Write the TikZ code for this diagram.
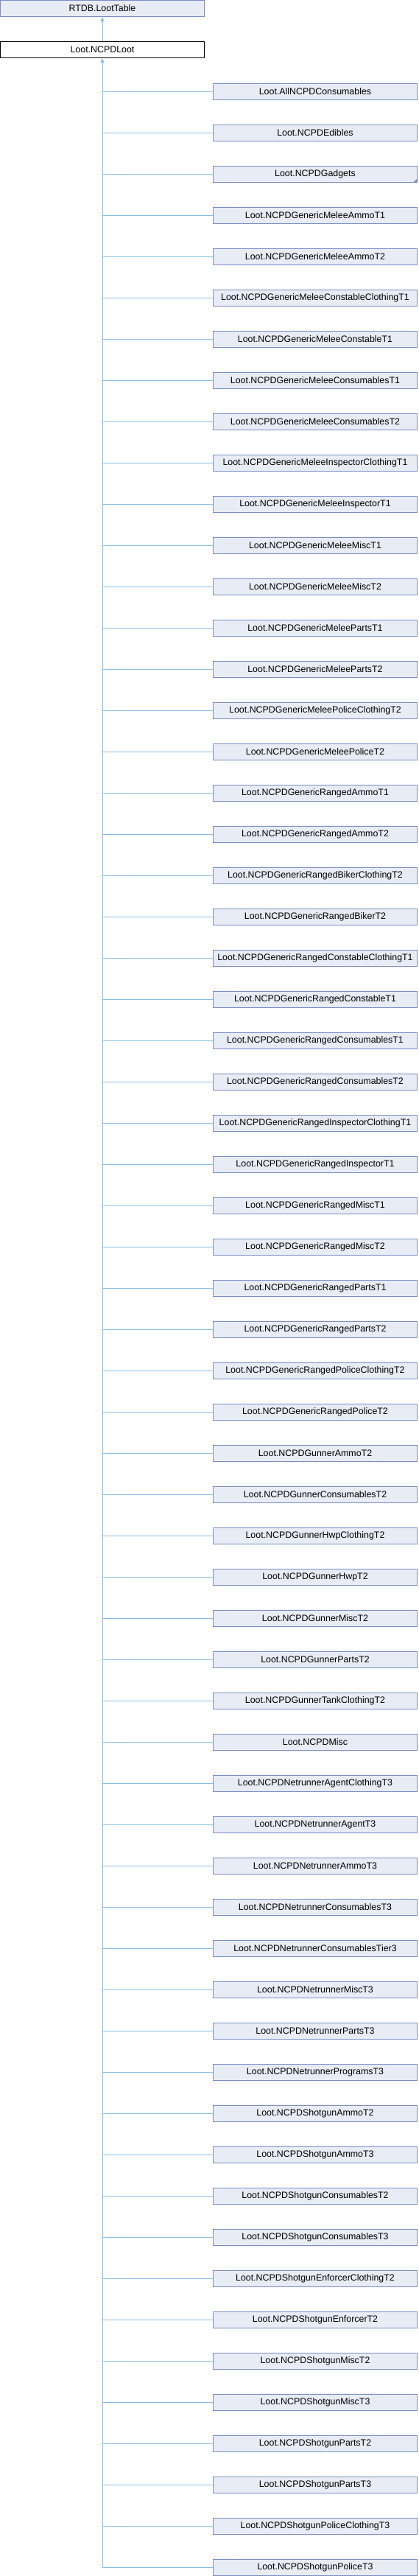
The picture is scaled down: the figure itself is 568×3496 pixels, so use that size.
\documentclass[tikz,border=0pt]{standalone}
\usepackage{fontspec}
\setmainfont{Liberation Sans}
\usetikzlibrary{arrows.meta,positioning}
\definecolor{boxfill}{RGB}{232,236,245}
\definecolor{boxline}{RGB}{122,141,200}
\definecolor{edgeblue}{RGB}{138,192,232}
\tikzset{
    %Define standard arrow tip
    >={Triangle[length=6pt,width=5pt]},
    %Define style for class boxes
    classnode/.style={
             rectangle,
             draw=boxline, fill=boxfill, line width=1pt,
             minimum width=277pt, minimum height=22pt,
             inner sep=0pt,
             font=\fontsize{12.4}{14}\selectfont},
    currentnode/.style={
             classnode,
             draw=black, fill=white},
    % Define edge styles
    inheritline/.style={
            edgeblue,
            line width=1pt},
    inheritarrow/.style={
            <-,
            edgeblue,
            line width=1pt}
}

\begin{document}
\begin{tikzpicture}[x=1pt, y=1pt]
 \useasboundingbox (0,0) rectangle (568,-3496);
 \node[classnode] (table) at (139,-11.5) {RTDB.LootTable};
 \node[currentnode, below=33pt of table] (loot) {Loot.NCPDLoot};
 \draw[inheritarrow] (table.south) -- (loot.north);
 \foreach \name [count=\i] in {AllNCPDConsumables, NCPDEdibles, NCPDGadgets,
     NCPDGenericMeleeAmmoT1, NCPDGenericMeleeAmmoT2, NCPDGenericMeleeConstableClothingT1,
     NCPDGenericMeleeConstableT1, NCPDGenericMeleeConsumablesT1, NCPDGenericMeleeConsumablesT2,
     NCPDGenericMeleeInspectorClothingT1, NCPDGenericMeleeInspectorT1, NCPDGenericMeleeMiscT1,
     NCPDGenericMeleeMiscT2, NCPDGenericMeleePartsT1, NCPDGenericMeleePartsT2,
     NCPDGenericMeleePoliceClothingT2, NCPDGenericMeleePoliceT2, NCPDGenericRangedAmmoT1,
     NCPDGenericRangedAmmoT2, NCPDGenericRangedBikerClothingT2, NCPDGenericRangedBikerT2,
     NCPDGenericRangedConstableClothingT1, NCPDGenericRangedConstableT1,
     NCPDGenericRangedConsumablesT1, NCPDGenericRangedConsumablesT2,
     NCPDGenericRangedInspectorClothingT1, NCPDGenericRangedInspectorT1,
     NCPDGenericRangedMiscT1, NCPDGenericRangedMiscT2, NCPDGenericRangedPartsT1,
     NCPDGenericRangedPartsT2, NCPDGenericRangedPoliceClothingT2, NCPDGenericRangedPoliceT2,
     NCPDGunnerAmmoT2, NCPDGunnerConsumablesT2, NCPDGunnerHwpClothingT2, NCPDGunnerHwpT2,
     NCPDGunnerMiscT2, NCPDGunnerPartsT2, NCPDGunnerTankClothingT2, NCPDMisc,
     NCPDNetrunnerAgentClothingT3, NCPDNetrunnerAgentT3, NCPDNetrunnerAmmoT3,
     NCPDNetrunnerConsumablesT3, NCPDNetrunnerConsumablesTier3, NCPDNetrunnerMiscT3,
     NCPDNetrunnerPartsT3, NCPDNetrunnerProgramsT3, NCPDShotgunAmmoT2, NCPDShotgunAmmoT3,
     NCPDShotgunConsumablesT2, NCPDShotgunConsumablesT3, NCPDShotgunEnforcerClothingT2,
     NCPDShotgunEnforcerT2, NCPDShotgunMiscT2, NCPDShotgunMiscT3, NCPDShotgunPartsT2,
     NCPDShotgunPartsT3, NCPDShotgunPoliceClothingT3, NCPDShotgunPoliceT3} {
   \node[classnode] (c\i) at (428,{-124.3-56*(\i-1)}) {Loot.\name};
   \draw[inheritline] (c\i.west -| loot.south) -- (c\i.west);
 }
 % trunk from the last child up to NCPDLoot
 \draw[inheritarrow] (loot.south) -- (c61.west -| loot.south);
 % marker on the truncated Gadgets box
 \fill[boxline] (c3.south east) -- ++(-6,0) -- ++(6,6) -- cycle;
\end{tikzpicture}
\end{document}
